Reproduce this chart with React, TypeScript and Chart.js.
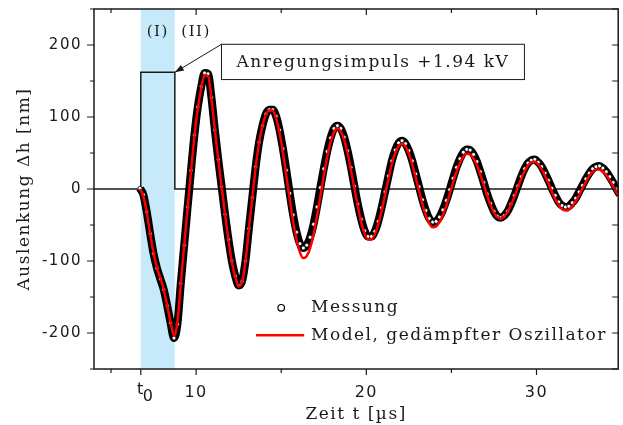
import React, { useEffect, useRef } from 'react';
import { Chart, registerables } from 'chart.js';

Chart.register(...registerables);

// ---------- data ----------
const timeUs = [
  6.7, 6.9,
  7.1, 7.3, 7.5, 7.7, 7.9, 8.1, 8.3, 8.5, 8.7, 8.9,
  9.1, 9.3, 9.5, 9.7, 9.9, 10.1, 10.3, 10.5, 10.7, 10.9,
  11.1, 11.3, 11.5, 11.7, 11.9, 12.1, 12.3, 12.5, 12.7, 12.9,
  13.1, 13.3, 13.5, 13.7, 13.9, 14.1, 14.3, 14.5, 14.7, 14.9,
  15.1, 15.3, 15.5, 15.7, 15.9, 16.1, 16.3, 16.5, 16.7, 16.9,
  17.1, 17.3, 17.5, 17.7, 17.9, 18.1, 18.3, 18.5, 18.7, 18.9,
  19.1, 19.3, 19.5, 19.7, 19.9, 20.1, 20.3, 20.5, 20.7, 20.9,
  21.1, 21.3, 21.5, 21.7, 21.9, 22.1, 22.3, 22.5, 22.7, 22.9,
  23.1, 23.3, 23.5, 23.7, 23.9, 24.1, 24.3, 24.5, 24.7, 24.9,
  25.1, 25.3, 25.5, 25.7, 25.9, 26.1, 26.3, 26.5, 26.7, 26.9,
  27.1, 27.3, 27.5, 27.7, 27.9, 28.1, 28.3, 28.5, 28.7, 28.9,
  29.1, 29.3, 29.5, 29.7, 29.9, 30.1, 30.3, 30.5, 30.7, 30.9,
  31.1, 31.3, 31.5, 31.7, 31.9, 32.1, 32.3, 32.5, 32.7, 32.9,
  33.1, 33.3, 33.5, 33.7, 33.9, 34.1, 34.3, 34.5, 34.7, 34.9,
];

// Messung (measured deflection, nm)
const messungNm = [
  1, -8,
  -32, -62, -90, -110, -125, -140, -162, -186, -207, -188,
  -131, -78, -25, 26, 75, 114, 142, 161, 160, 127,
  82, 41, 3, -35, -70, -100, -121, -134, -128, -100,
  -55, -12, 31, 65, 88, 104, 110, 110, 101, 82,
  56, 26, -6, -36, -60, -76, -82, -78, -67, -49,
  -25, 2, 28, 52, 71, 84, 88, 84, 72, 53,
  30, 4, -21, -42, -58, -66, -66, -59, -45, -26,
  -4, 18, 39, 54, 64, 67, 63, 53, 39, 21,
  3, -15, -30, -41, -46, -45, -39, -29, -16, -1,
  15, 30, 42, 51, 55, 54, 48, 38, 24, 9,
  -7, -20, -31, -38, -40, -37, -31, -21, -9, 4,
  17, 28, 36, 40, 41, 37, 31, 22, 12, 1,
  -9, -18, -23, -25, -24, -19, -13, -4, 5, 14,
  22, 28, 31, 32, 29, 24, 17, 9, 0, -8,
];

// Model, gedämpfter Oszillator (nm)
const modellNm = [
  0, -10,
  -33, -62, -89, -109, -124, -140, -162, -185, -204, -186,
  -131, -78, -26, 25, 73, 112, 140, 158, 157, 126,
  82, 41, 3, -35, -71, -101, -122, -135, -129, -101,
  -56, -13, 30, 64, 88, 103, 109, 109, 98, 78,
  51, 19, -14, -45, -70, -88, -96, -93, -82, -63,
  -38, -10, 18, 44, 65, 79, 84, 80, 68, 50,
  26, 1, -24, -46, -62, -70, -70, -63, -49, -30,
  -8, 14, 35, 50, 60, 63, 59, 49, 34, 16,
  -3, -21, -37, -48, -53, -52, -46, -36, -23, -7,
  9, 24, 36, 45, 49, 48, 42, 33, 20, 6,
  -9, -22, -33, -39, -41, -38, -32, -22, -11, 2,
  14, 25, 33, 37, 38, 34, 28, 18, 8, -4,
  -14, -22, -28, -30, -29, -24, -17, -9, 1, 10,
  18, 24, 27, 27, 24, 19, 12, 4, -5, -12,
];

// Excitation pulse (drawn in nm units of the plot)
const pulseTimeUs = [4, 6.75, 6.75, 8.75, 8.75, 34.8];
const pulseLevel = [0, 0, 162, 162, 0, 0];

const T0 = 6.75;
const shadeRange = [6.75, 8.75];
const xMajorTicks = [10, 20, 30];
const xMinorTicks = [5, 15, 25, 35];
const yMajorTicks = [-200, -100, 0, 100, 200];
const yMinorTicks = [-250, -150, -50, 50, 150, 250];

const seriesLabels = ['Messung', 'Model, gedämpfter Oszillator'];
const regionLabels = ['(I)', '(II)'];
const annotationText = 'Anregungsimpuls +1.94 kV';
const xTitle = 'Zeit t [µs]';
const yTitle = 'Auslenkung Δh [nm]';

// ---------- layout / style constants ----------
const X_MIN = 4;
const X_MAX = 34.8;
const Y_MIN = -250;
const Y_MAX = 250;
const INK = '#1a1a1a';
const SERIF = 'DejaVu Serif';
const SANS = 'DejaVu Sans';
const SPACING = '1.5px';

const regionLabelPos = [
  [7.75, 218],
  [10.0, 218],
];
const annotBox = { x0: 11.49, x1: 29.29, y0: 152, y1: 201 };
const arrowTip = [8.75, 162];
const legendPos = { markerX: 15.0, lineX0: 13.52, lineX1: 16.35, textX: 16.75, row1: -165, row2: -203 };

const zeroPad = (s: any) => {
  s.paddingTop = 0;
  s.paddingBottom = 0;
  s.paddingLeft = 0;
  s.paddingRight = 0;
};

const decorPlugin = {
  id: 'decor',
  beforeUpdate(chart: any) {
    chart.ctx.letterSpacing = SPACING;
  },
  beforeDraw(chart: any) {
    chart.ctx.letterSpacing = SPACING;
  },
  beforeDatasetsDraw(chart: any) {
    const { ctx, chartArea: a, scales } = chart;
    const x = scales.x;
    ctx.save();
    ctx.fillStyle = 'rgb(199,234,251)';
    const x0 = x.getPixelForValue(shadeRange[0]);
    const x1 = x.getPixelForValue(shadeRange[1]);
    ctx.fillRect(x0, a.top, x1 - x0, a.bottom - a.top);
    ctx.restore();
  },
  afterDatasetsDraw(chart: any) {
    const { ctx, chartArea: a, scales } = chart;
    const xs = scales.x;
    const ys = scales.y;
    const X = (v: number) => xs.getPixelForValue(v);
    const Y = (v: number) => ys.getPixelForValue(v);
    ctx.save();
    ctx.letterSpacing = SPACING;

    // frame
    ctx.strokeStyle = INK;
    ctx.lineWidth = 1.5;
    ctx.strokeRect(a.left, a.top, a.right - a.left, a.bottom - a.top);

    // ticks
    ctx.lineWidth = 1.2;
    ctx.beginPath();
    const tickX = (v: number, len: number, bottom: boolean, top: boolean) => {
      const p = X(v);
      if (p < a.left - 0.5 || p > a.right + 0.5) return;
      if (bottom) {
        ctx.moveTo(p, a.bottom);
        ctx.lineTo(p, a.bottom + len);
      }
      if (top) {
        ctx.moveTo(p, a.top);
        ctx.lineTo(p, a.top + len);
      }
    };
    xMajorTicks.forEach((v) => tickX(v, 6, true, true));
    xMinorTicks.forEach((v) => tickX(v, 4, true, true));
    tickX(T0, 6, true, false);
    const tickY = (v: number, len: number) => {
      const p = Y(v);
      ctx.moveTo(a.left - len, p);
      ctx.lineTo(a.left, p);
      ctx.moveTo(a.right, p);
      ctx.lineTo(a.right - 6, p);
    };
    yMajorTicks.forEach((v) => tickY(v, 7));
    yMinorTicks.forEach((v) => tickY(v, 4));
    ctx.stroke();

    // t0 label
    ctx.fillStyle = INK;
    ctx.font = `16px "${SANS}"`;
    ctx.textBaseline = 'middle';
    ctx.textAlign = 'right';
    ctx.fillText('t', X(T0) + 4, a.bottom + 21);
    ctx.textAlign = 'left';
    ctx.fillText('0', X(T0) + 2, a.bottom + 28);

    // region labels
    ctx.font = `15px "${SERIF}"`;
    ctx.textAlign = 'center';
    regionLabels.forEach((t, i) => {
      ctx.fillText(t, X(regionLabelPos[i][0]), Y(regionLabelPos[i][1]));
    });

    // annotation box + arrow
    const bx0 = X(annotBox.x0);
    const bx1 = X(annotBox.x1);
    const by0 = Y(annotBox.y1);
    const by1 = Y(annotBox.y0);
    ctx.fillStyle = '#ffffff';
    ctx.fillRect(bx0, by0, bx1 - bx0, by1 - by0);
    ctx.strokeStyle = INK;
    ctx.lineWidth = 1;
    ctx.strokeRect(bx0, by0, bx1 - bx0, by1 - by0);
    ctx.fillStyle = INK;
    ctx.font = `17px "${SERIF}"`;
    ctx.textAlign = 'center';
    ctx.fillText(annotationText, (bx0 + bx1) / 2, (by0 + by1) / 2 + 1);

    const tx = X(arrowTip[0]);
    const ty = Y(arrowTip[1]);
    ctx.beginPath();
    ctx.moveTo(bx0, by0);
    ctx.lineTo(tx, ty);
    ctx.stroke();
    const ang = Math.atan2(ty - by0, tx - bx0);
    const L = 9;
    const W = 3.2;
    ctx.beginPath();
    ctx.moveTo(tx, ty);
    ctx.lineTo(tx - L * Math.cos(ang) + W * Math.sin(ang), ty - L * Math.sin(ang) - W * Math.cos(ang));
    ctx.lineTo(tx - L * Math.cos(ang) - W * Math.sin(ang), ty - L * Math.sin(ang) + W * Math.cos(ang));
    ctx.closePath();
    ctx.fill();

    // legend
    const ds = chart.data.datasets;
    ctx.beginPath();
    ctx.arc(X(legendPos.markerX), Y(legendPos.row1), 3.3, 0, Math.PI * 2);
    ctx.fillStyle = '#ffffff';
    ctx.fill();
    ctx.lineWidth = 1.2;
    ctx.strokeStyle = '#000';
    ctx.stroke();
    ctx.beginPath();
    ctx.moveTo(X(legendPos.lineX0), Y(legendPos.row2));
    ctx.lineTo(X(legendPos.lineX1), Y(legendPos.row2));
    ctx.strokeStyle = ds[0].borderColor;
    ctx.lineWidth = 2.5;
    ctx.stroke();
    ctx.fillStyle = INK;
    ctx.font = `17px "${SERIF}"`;
    ctx.textAlign = 'left';
    ctx.fillText(ds[1].label, X(legendPos.textX), Y(legendPos.row1));
    ctx.fillText(ds[0].label, X(legendPos.textX), Y(legendPos.row2));

    ctx.restore();
  },
};

export default function App() {
  const ref = useRef<HTMLCanvasElement | null>(null);

  useEffect(() => {
    const canvas = ref.current;
    if (!canvas) return;
    const chart = new Chart(canvas, {
      type: 'line',
      data: {
        datasets: [
          {
            label: seriesLabels[1],
            data: timeUs.map((t, i) => ({ x: t, y: modellNm[i] })),
            borderColor: '#ff0000',
            borderWidth: 2.5,
            pointRadius: 0,
            cubicInterpolationMode: 'monotone',
            clip: 0,
            order: 0,
          },
          {
            label: seriesLabels[0],
            data: timeUs.map((t, i) => ({ x: t, y: messungNm[i] })),
            borderColor: '#000000',
            borderWidth: 8,
            pointRadius: 2,
            pointBackgroundColor: '#ffffff',
            pointBorderColor: '#000000',
            pointBorderWidth: 0.8,
            cubicInterpolationMode: 'monotone',
            clip: 0,
            order: 1,
          },
          {
            label: 'Anregungsimpuls',
            data: pulseTimeUs.map((t, i) => ({ x: t, y: pulseLevel[i] })),
            borderColor: INK,
            borderWidth: 1.5,
            pointRadius: 0,
            tension: 0,
            clip: 0,
            order: 2,
          },
        ] as any,
      },
      options: {
        animation: false,
        responsive: false,
        events: [],
        layout: { padding: { top: 9, right: 3, left: 0, bottom: 0 } },
        plugins: {
          legend: { display: false },
          tooltip: { enabled: false },
        },
        scales: {
          x: {
            type: 'linear',
            min: X_MIN,
            max: X_MAX,
            grid: { display: false, drawTicks: false },
            border: { display: false },
            afterBuildTicks: (s: any) => {
              s.ticks = xMajorTicks.map((v) => ({ value: v }));
            },
            afterFit: (s: any) => {
              s.height = 56;
              zeroPad(s);
            },
            ticks: {
              autoSkip: false,
              maxRotation: 0,
              padding: 14,
              color: INK,
              font: { family: SANS, size: 16 },
            },
            title: {
              display: true,
              text: xTitle,
              color: INK,
              font: { family: SERIF, size: 17 },
              padding: { top: 0, bottom: 0 },
            },
          },
          y: {
            type: 'linear',
            min: Y_MIN,
            max: Y_MAX,
            grid: { display: false, drawTicks: false },
            border: { display: false },
            afterBuildTicks: (s: any) => {
              s.ticks = yMajorTicks.map((v) => ({ value: v }));
            },
            afterFit: (s: any) => {
              s.width = 94;
              zeroPad(s);
            },
            ticks: {
              autoSkip: false,
              padding: 12,
              color: INK,
              font: { family: SANS, size: 15 },
            },
            title: {
              display: true,
              text: yTitle,
              color: INK,
              font: { family: SERIF, size: 17 },
              padding: { top: 14, bottom: 0 },
            },
          },
        },
      } as any,
      plugins: [decorPlugin],
    });
    return () => chart.destroy();
  }, []);

  return (
    <div style={{ position: 'fixed', left: 0, top: 0, width: 623, height: 425, background: '#ffffff' }}>
      <canvas ref={ref} width={623} height={425} style={{ display: 'block', width: 623, height: 425 }} />
    </div>
  );
}
